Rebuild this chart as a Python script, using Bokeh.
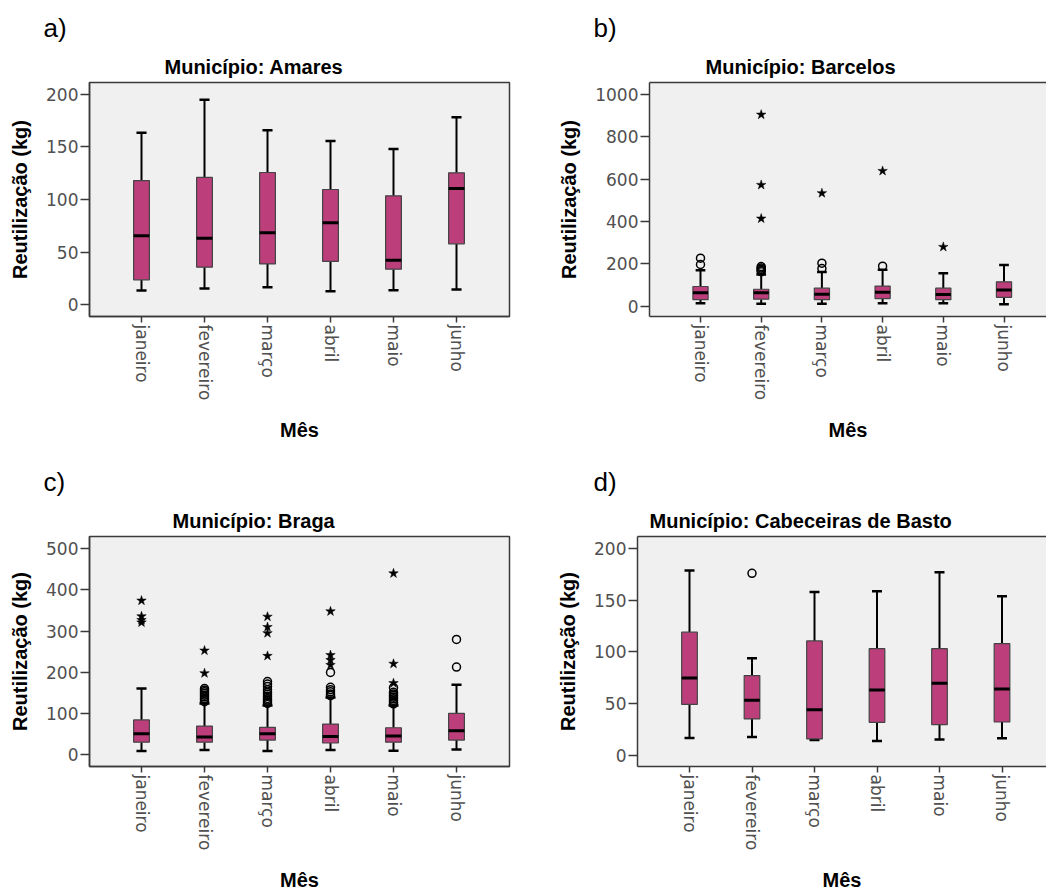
import math

from bokeh.embed import file_html
from bokeh.layouts import column, row
from bokeh.models import FixedTicker, LinearAxis, Range1d, Title
from bokeh.plotting import figure
from bokeh.resources import INLINE

# ---- data -------------------------------------------------------------
months = ["janeiro", "fevereiro", "março", "abril", "maio", "junho"]

# Amares
amares_low = [13.3, 15.2, 16.5, 12.7, 13.7, 14.3]
amares_q1 = [23.5, 35.6, 38.7, 41.0, 33.7, 57.8]
amares_med = [65.4, 63.2, 68.3, 77.8, 42.2, 110.5]
amares_q3 = [118.0, 121.0, 125.7, 109.5, 103.5, 125.4]
amares_high = [163.5, 195.0, 166.0, 155.6, 148.0, 178.4]
amares_mild = [[], [], [], [], [], []]
amares_extreme = [[], [], [], [], [], []]

# Barcelos
barcelos_low = [14, 11, 11, 14, 14, 9]
barcelos_q1 = [31, 33, 31, 36, 31, 42]
barcelos_med = [63, 63, 57, 66, 55, 77]
barcelos_q3 = [93, 80, 85, 95, 85, 115]
barcelos_high = [170, 150, 161, 172, 156, 195]
barcelos_mild = [[227, 197], [187, 181, 175, 169, 163], [203, 178], [189], [], []]
barcelos_extreme = [[], [905, 573, 414], [534], [639], [280], []]

# Braga
braga_low = [9.5, 12, 9.5, 12, 10, 13]
braga_q1 = [31, 31, 36, 29, 31, 36]
braga_med = [51.5, 43.6, 51.5, 45, 46, 58.6]
braga_q3 = [85, 70, 67, 75, 66, 101]
braga_high = [161, 125, 120, 139, 120, 170]
braga_mild = [
    [],
    [161, 157, 153, 149, 145, 141, 137, 133, 129],
    [178, 172, 166, 158, 152, 147, 142, 137, 133, 129, 125],
    [200, 164, 158, 153, 148, 144],
    [163, 152, 148, 144, 140, 136, 132, 128, 124],
    [280, 213],
]
braga_extreme = [
    [374, 336, 327, 321],
    [253, 198],
    [335, 310, 295, 240],
    [348, 242, 230, 218],
    [440, 221, 174],
    [],
]

# Cabeceiras de Basto
cabeceiras_low = [16.5, 17.5, 14.6, 13.7, 15.0, 16.2]
cabeceiras_q1 = [49.0, 35.0, 15.6, 31.7, 29.5, 32.0]
cabeceiras_med = [74.6, 53.0, 43.8, 62.9, 69.5, 64.0]
cabeceiras_q3 = [119.0, 77.0, 110.5, 103.0, 103.0, 108.0]
cabeceiras_high = [178.7, 93.7, 158.0, 158.7, 177.0, 153.7]
cabeceiras_mild = [[], [176], [], [], [], []]
cabeceiras_extreme = [[], [], [], [], [], []]

# ---- styling ------------------------------------------------------------
BOX_FILL = "#bc3f7c"
FRAME = "#3a3a3a"
BOLD_FONT = "Liberation Sans"
TICK_FONT = "DejaVu Sans"
TICK_COLOR = "#505050"
LETTER_FONT = "'Liberation Sans Narrow', 'Liberation Sans'"


def panel(letter, name, low, q1, med, q3, high, mild, extreme, yticks, yrange,
          xrange, width, height, left, bottom, letter_offset, title_offset,
          open_right):
    p = figure(
        width=width, height=height,
        x_range=Range1d(*xrange), y_range=Range1d(*yrange),
        output_backend="svg", toolbar_location=None,
        min_border_left=left, min_border_right=0 if open_right else 11,
        min_border_top=82, min_border_bottom=bottom,
        background_fill_color="#f0f0f0", border_fill_color="white",
        title=None, frame_align=False,
    )
    p.grid.visible = False

    xs = list(range(1, len(months) + 1))
    half = 0.125
    cap = 0.08

    # whiskers
    p.segment(x0=xs, y0=q3, x1=xs, y1=high, line_color="black", line_width=2)
    p.segment(x0=xs, y0=q1, x1=xs, y1=low, line_color="black", line_width=2)
    p.segment(x0=[x - cap for x in xs], y0=high, x1=[x + cap for x in xs], y1=high,
              line_color="black", line_width=2.5)
    p.segment(x0=[x - cap for x in xs], y0=low, x1=[x + cap for x in xs], y1=low,
              line_color="black", line_width=2.5)
    # boxes
    p.vbar(x=xs, width=2 * half, bottom=q1, top=q3, fill_color=BOX_FILL,
           line_color="#444444", line_width=1.2)
    # medians
    p.segment(x0=[x - half for x in xs], y0=med, x1=[x + half for x in xs], y1=med,
              line_color="black", line_width=3)

    # outliers: circles for mild, stars for extreme values
    mx, my = [], []
    for x, vals in zip(xs, mild):
        mx += [x] * len(vals)
        my += vals
    ex, ey = [], []
    for x, vals in zip(xs, extreme):
        ex += [x] * len(vals)
        ey += vals
    if mx:
        p.scatter(x=mx, y=my, marker="circle", size=8, fill_color=None,
                  line_color="black", line_width=1.5)
    if ex:
        p.scatter(x=ex, y=ey, marker="star", size=10, fill_color="black",
                  line_color="black", line_width=0.5)

    # axes
    xa = p.below[0]
    ya = p.left[0]
    xa.ticker = FixedTicker(ticks=xs)
    xa.major_label_overrides = {x: m for x, m in zip(xs, months)}
    xa.major_label_orientation = -math.pi / 2
    xa.axis_label = "Mês"
    ya.ticker = FixedTicker(ticks=yticks)
    ya.axis_label = "Reutilização (kg)"
    for ax in (xa, ya):
        ax.axis_line_color = FRAME
        ax.axis_line_width = 1.5
        ax.major_tick_line_color = FRAME
        ax.major_tick_line_width = 1.5
        ax.major_tick_in = 0
        ax.minor_tick_out = 0
        ax.minor_tick_in = 0
        ax.major_label_text_font = TICK_FONT
        ax.major_label_text_font_size = "17px"
        ax.major_label_text_color = TICK_COLOR
        ax.axis_label_text_font = BOLD_FONT
        ax.axis_label_text_font_size = "20px"
        ax.axis_label_text_font_style = "bold"
        ax.axis_label_text_color = "black"
    xa.major_tick_out = 6
    xa.major_label_standoff = 2
    xa.axis_label_standoff = 16
    ya.major_tick_out = 9
    ya.major_label_standoff = 2
    ya.axis_label_standoff = 12

    if open_right:
        # frame continues past the right edge: draw only top/left/bottom
        p.outline_line_color = None
        top = LinearAxis(ticker=FixedTicker(ticks=[]), axis_line_color=FRAME,
                         axis_line_width=1.5, major_tick_out=0, major_tick_in=0,
                         minor_tick_out=0, minor_tick_in=0,
                         major_label_text_font_size="0px")
        p.add_layout(top, "above")
    else:
        p.outline_line_color = FRAME
        p.outline_line_width = 1.5

    p.add_layout(Title(text="Município: " + name, align="left",
                       offset=title_offset,
                       text_font=BOLD_FONT, text_font_size="20px",
                       text_font_style="bold", text_color="black",
                       standoff=10), "above")
    p.add_layout(Title(text=letter, align="left", offset=letter_offset,
                       text_font=LETTER_FONT, text_font_size="26px",
                       text_font_style="normal", text_color="black",
                       standoff=12), "above")
    return p


pa = panel("a)", "Amares", amares_low, amares_q1, amares_med, amares_q3,
           amares_high, amares_mild, amares_extreme,
           [0, 50, 100, 150, 200], (-11.4, 211.4), (1 - 52 / 63, 1 - 52 / 63 + 420 / 63),
           520, 454, 89, 138, -46, 75, False)
pb = panel("b)", "Barcelos", barcelos_low, barcelos_q1, barcelos_med, barcelos_q3,
           barcelos_high, barcelos_mild, barcelos_extreme,
           [0, 200, 400, 600, 800, 1000], (-48.7, 1057), (1 - 51 / 60.7, 1 - 51 / 60.7 + 397 / 60.7),
           526, 454, 129, 138, -56, 56, True)
pc = panel("c)", "Braga", braga_low, braga_q1, braga_med, braga_q3,
           braga_high, braga_mild, braga_extreme,
           [0, 100, 200, 300, 400, 500], (-27.9, 529.3), (1 - 52 / 63, 1 - 52 / 63 + 420 / 63),
           520, 440, 89, 124, -46, 83, False)
pd_ = panel("d)", "Cabeceiras de Basto", cabeceiras_low, cabeceiras_q1, cabeceiras_med,
            cabeceiras_q3, cabeceiras_high, cabeceiras_mild, cabeceiras_extreme,
            [0, 50, 100, 150, 200], (-11.1, 211.7), (1 - 52 / 62.5, 1 - 52 / 62.5 + 409 / 62.5),
            526, 440, 117, 124, -44, 12, True)

layout = column(row(pa, pb), row(pc, pd_))

with open("out.html", "w") as f:
    f.write(file_html(layout, INLINE))
